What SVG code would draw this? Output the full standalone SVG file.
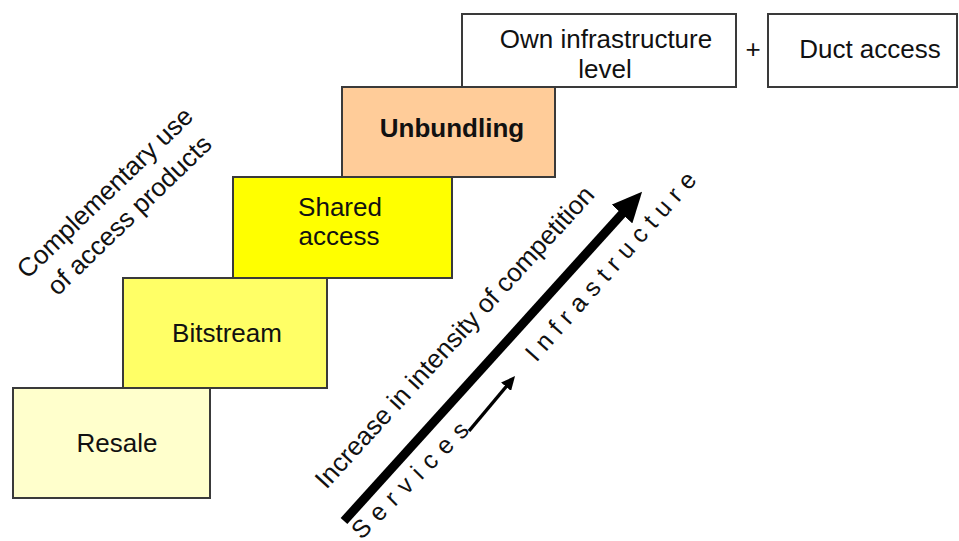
<svg xmlns="http://www.w3.org/2000/svg" width="959" height="541" viewBox="0 0 959 541">
<style>
  .box { stroke: #3a3a3a; stroke-width: 2; }
  text { font-family: "Liberation Sans", Arial, sans-serif; font-size: 26px; fill: #111; text-anchor: middle; }
  .bold { font-weight: bold; }
  .spaced { font-size: 25px; }
</style>
<defs>
  <marker id="bigHead" markerUnits="userSpaceOnUse" markerWidth="30" markerHeight="28" viewBox="0 0 30 28" refX="2" refY="14" orient="auto">
    <path d="M0,0 L30,14 L0,28 z" fill="#000"/>
  </marker>
  <marker id="smallHead" markerUnits="userSpaceOnUse" markerWidth="14" markerHeight="13" viewBox="0 0 14 13" refX="1" refY="6.5" orient="auto">
    <path d="M0,0 L14,6.5 L0,13 z" fill="#000"/>
  </marker>
</defs>
<rect width="959" height="541" fill="#fff"/>

<g id="resale">
  <rect class="box" x="13" y="388" width="197" height="110" fill="#FFFFCC"/>
  <text x="117" y="452">Resale</text>
</g>
<g id="bitstream">
  <rect class="box" x="123" y="278" width="204" height="110" fill="#FFFF66"/>
  <text x="227" y="342">Bitstream</text>
</g>
<g id="shared-access">
  <rect class="box" x="233" y="177" width="219" height="101" fill="#FFFF00"/>
  <text x="340" y="216">Shared</text>
  <text x="339" y="245">access</text>
</g>
<g id="unbundling">
  <rect class="box" x="342" y="87" width="213" height="90" fill="#FFCC99"/>
  <text class="bold" x="452" y="137">Unbundling</text>
</g>
<g id="own-infrastructure">
  <rect class="box" x="462" y="14" width="274" height="73" fill="#fff"/>
  <text x="606" y="48">Own infrastructure</text>
  <text x="605" y="78">level</text>
</g>
<g id="plus">
  <text x="753" y="58">+</text>
</g>
<g id="duct-access">
  <rect class="box" x="768" y="14" width="189" height="73" fill="#fff"/>
  <text x="870" y="58">Duct access</text>
</g>

<g id="complementary-label" transform="translate(111,199) rotate(-44)">
  <text x="0" y="0">Complementary use</text>
  <text x="2" y="33">of access products</text>
</g>

<g id="connectors">
  <line x1="344" y1="521" x2="623.3" y2="212.5" stroke="#000" stroke-width="9" marker-end="url(#bigHead)"/>
  <line x1="469" y1="431" x2="506.7" y2="386" stroke="#000" stroke-width="3.5" marker-end="url(#smallHead)"/>
</g>

<g id="competition-label" transform="translate(461,343) rotate(-47.5)">
  <text x="0" y="0">Increase in intensity of competition</text>
</g>
<g id="services-label" transform="translate(416,486) rotate(-45)">
  <text class="spaced" x="4" y="0" letter-spacing="8.3">Services</text>
</g>
<g id="infrastructure-label" transform="translate(617,272) rotate(-48.4)">
  <text class="spaced" x="3.7" y="0" letter-spacing="7.4">Infrastructure</text>
</g>
</svg>
